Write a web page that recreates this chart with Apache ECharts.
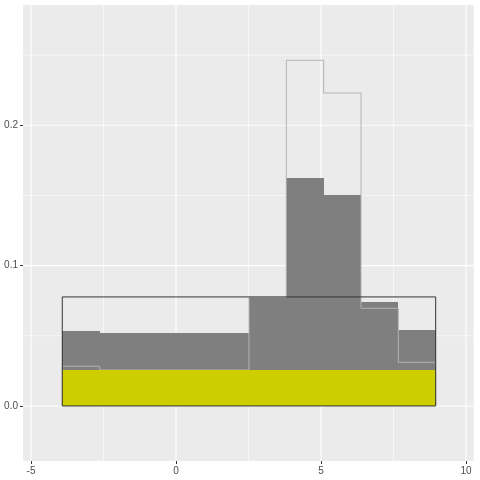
<!DOCTYPE html>
<html>
<head>
<meta charset="utf-8">
<script src="https://cdn.jsdelivr.net/npm/echarts@6/dist/echarts.min.js"></script>
<style>html,body{margin:0;padding:0;background:#fff}#c{width:480px;height:480px}</style>
</head>
<body>
<div id="c"></div>
<script>
// bin edges (10 bins)
var breaks = [-3.921, -2.633, -1.346, -0.058, 1.229, 2.517, 3.804, 5.092, 6.380, 7.667, 8.955];
// filled grey histogram densities
var greyFill = [0.0534, 0.0521, 0.0521, 0.0521, 0.0521, 0.0770, 0.1627, 0.1503, 0.0741, 0.0541];
// light grey step-outline histogram densities
var greyOutline = [0.0283, 0.0256, 0.0256, 0.0256, 0.0256, 0.0774, 0.2463, 0.2230, 0.0696, 0.0311];
// yellow uniform component
var yellowDensity = [0.0259, 0.0259, 0.0259, 0.0259, 0.0259, 0.0259, 0.0259, 0.0259, 0.0259, 0.0259];
// black uniform outline (range and height)
var uniformRange = [-3.921, 8.955];
var uniformDensity = 0.0777;
// axis breaks
var xMajor = [-5, 0, 5, 10];
var xMinor = [-2.5, 2.5, 7.5];
var yMajor = [0, 0.1, 0.2];
var yMinor = [0.05, 0.15, 0.25];
var xLimits = [-5.276, 10.266];
var yLimits = [-0.0392, 0.2857];

function bins(vals) {
  return vals.map(function (v, i) { return [breaks[i], breaks[i + 1], v]; });
}
function stepBins(vals) {
  return vals.map(function (v, i) {
    return [breaks[i], breaks[i + 1], v, i === 0 ? 0 : vals[i - 1], i === vals.length - 1 ? 1 : 0];
  });
}

function rectItem(style, snap) {
  return function (params, api) {
    var p0 = api.coord([api.value(0), api.value(2)]);
    var p1 = api.coord([api.value(1), 0]);
    var x0 = p0[0], x1 = p1[0], y0 = p0[1], y1 = p1[1];
    if (snap) { x0 = Math.round(x0); x1 = Math.round(x1); y0 = Math.round(y0); y1 = Math.round(y1); }
    return {
      type: 'rect',
      shape: { x: x0, y: y0, width: x1 - x0, height: y1 - y0 },
      style: style
    };
  };
}

function stepItem(params, api) {
  var x0 = api.value(0), x1 = api.value(1), h = api.value(2), prev = api.value(3), last = api.value(4);
  var pts = [api.coord([x0, prev]), api.coord([x0, h]), api.coord([x1, h])];
  if (last) pts.push(api.coord([x1, 0]));
  return { type: 'polyline', shape: { points: pts },
    style: { fill: null, stroke: '#B3B3B3', lineWidth: 1 } };
}

function vline(width) {
  return function (params, api) {
    var cs = params.coordSys;
    var x = api.coord([api.value(0), 0])[0];
    return { type: 'line', shape: { x1: x, y1: cs.y, x2: x, y2: cs.y + cs.height },
      style: { stroke: '#ffffff', lineWidth: width } };
  };
}
function hline(width) {
  return function (params, api) {
    var cs = params.coordSys;
    var y = api.coord([0, api.value(0)])[1];
    return { type: 'line', shape: { x1: cs.x, y1: y, x2: cs.x + cs.width, y2: y },
      style: { stroke: '#ffffff', lineWidth: width } };
  };
}

var labelStyle = { color: '#4d4d4d', fontSize: 10, fontFamily: 'Liberation Sans, Arial, sans-serif' };

var chart = echarts.init(document.getElementById('c'), null, { renderer: 'canvas' });
chart.setOption({
  animation: false,
  backgroundColor: '#ffffff',
  grid: { left: 23, top: 5, right: 6.3, bottom: 19, show: true, backgroundColor: '#EBEBEB', borderWidth: 0 },
  xAxis: {
    type: 'value', min: xLimits[0], max: xLimits[1], position: 'bottom',
    axisLine: { show: false, onZero: false },
    splitLine: { show: false },
    axisTick: { show: true, length: 3, lineStyle: { color: '#333333', width: 1 }, customValues: xMajor },
    axisLabel: Object.assign({ margin: 5, customValues: xMajor, formatter: function (v) { return String(v); } }, labelStyle)
  },
  yAxis: {
    type: 'value', min: yLimits[0], max: yLimits[1], position: 'left',
    axisLine: { show: false, onZero: false },
    splitLine: { show: false },
    axisTick: { show: true, length: 3, lineStyle: { color: '#333333', width: 1 }, customValues: yMajor },
    axisLabel: Object.assign({ margin: 5, customValues: yMajor, formatter: function (v) { return v.toFixed(1); } }, labelStyle)
  },
  series: [
    { type: 'custom', silent: true, renderItem: vline(0.6), data: xMinor.map(function (v) { return [v]; }), encode: { x: 0 } },
    { type: 'custom', silent: true, renderItem: hline(0.6), data: yMinor.map(function (v) { return [v]; }), encode: { y: 0 } },
    { type: 'custom', silent: true, renderItem: vline(1.1), data: xMajor.map(function (v) { return [v]; }), encode: { x: 0 } },
    { type: 'custom', silent: true, renderItem: hline(1.1), data: yMajor.map(function (v) { return [v]; }), encode: { y: 0 } },
    { type: 'custom', silent: true, renderItem: rectItem({ fill: '#7F7F7F' }, true), data: bins(greyFill), encode: { x: [0, 1], y: 2 } },
    { type: 'custom', silent: true, renderItem: stepItem, data: stepBins(greyOutline), encode: { x: [0, 1], y: [2, 3] } },
    { type: 'custom', silent: true, renderItem: rectItem({ fill: '#CDCD00' }, true), data: bins(yellowDensity), encode: { x: [0, 1], y: 2 } },
    { type: 'custom', silent: true, renderItem: rectItem({ fill: null, stroke: '#333333', lineWidth: 1 }, false), data: [[uniformRange[0], uniformRange[1], uniformDensity]], encode: { x: [0, 1], y: 2 } }
  ]
});
</script>
</body>
</html>
